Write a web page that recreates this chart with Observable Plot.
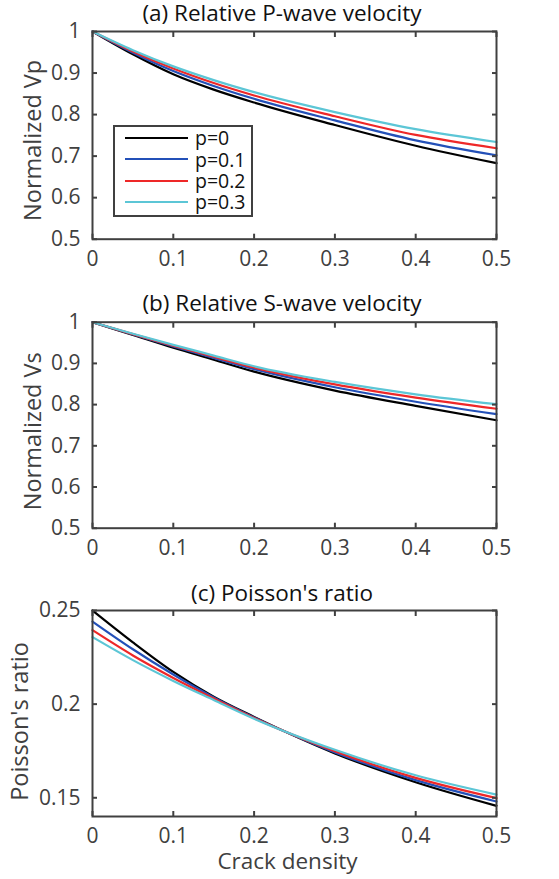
<!DOCTYPE html>
<html>
<head>
<meta charset="utf-8">
<script src="https://cdn.jsdelivr.net/npm/d3@7"></script>
<script src="https://cdn.jsdelivr.net/npm/@observablehq/plot@0.6"></script>
<style>
  html, body { margin: 0; padding: 0; background: #fff; }
  #root { position: relative; width: 559px; height: 879px; font-family: "Open Sans", sans-serif; }
  .panel { position: absolute; left: 0; }
  .title { position: absolute; width: 400px; text-align: center; font-size: 22.5px; color: #111; white-space: nowrap; line-height: 1.1; }
  .legend { position: absolute; left: 113px; top: 125px; width: 136px; height: 88px; border: 2px solid #404040; background: #fff; }
  .legend .row { position: absolute; left: 0; height: 22px; display: flex; align-items: center; font-size: 19.5px; color: #111; line-height: 1; }
  .legend .sw { width: 63px; height: 2px; margin-left: 10px; margin-right: 7px; }
</style>
</head>
<body>
<div id="root"></div>
<script>
// ---------- data ----------
const crack = [0, 0.05, 0.1, 0.15, 0.2, 0.3, 0.4, 0.5];
const seriesNames = ["p=0", "p=0.1", "p=0.2", "p=0.3"];
const seriesColors = ["#000000", "#2350b8", "#ee2828", "#5cc6d6"];

// (a) normalized Vp
const vpP0 = [1, 0.945, 0.897, 0.860, 0.829, 0.775, 0.725, 0.683];
const vpP1 = [1, 0.949, 0.905, 0.869, 0.838, 0.786, 0.738, 0.702];
const vpP2 = [1, 0.952, 0.911, 0.876, 0.846, 0.796, 0.751, 0.719];
const vpP3 = [1, 0.955, 0.916, 0.883, 0.854, 0.806, 0.765, 0.734];

// (b) normalized Vs
const vsP0 = [1, 0.969, 0.938, 0.909, 0.880, 0.834, 0.797, 0.762];
const vsP1 = [1, 0.970, 0.941, 0.913, 0.886, 0.842, 0.807, 0.777];
const vsP2 = [1, 0.971, 0.943, 0.916, 0.890, 0.849, 0.817, 0.790];
const vsP3 = [1, 0.972, 0.945, 0.919, 0.893, 0.855, 0.825, 0.801];

// (c) Poisson's ratio
const nuP0 = [0.2500, 0.2330, 0.2172, 0.2040, 0.1932, 0.1737, 0.1583, 0.1457];
const nuP1 = [0.2441, 0.2293, 0.2158, 0.2036, 0.1929, 0.1742, 0.1594, 0.1480];
const nuP2 = [0.2395, 0.2260, 0.2140, 0.2030, 0.1926, 0.1749, 0.1606, 0.1498];
const nuP3 = [0.2358, 0.2235, 0.2124, 0.2022, 0.1922, 0.1756, 0.1620, 0.1517];

// ticks
const xTicks = [0, 0.1, 0.2, 0.3, 0.4, 0.5];
const xTickLabels = ["0", "0.1", "0.2", "0.3", "0.4", "0.5"];
const yTicksV = [0.5, 0.6, 0.7, 0.8, 0.9, 1];
const yTickLabelsV = ["0.5", "0.6", "0.7", "0.8", "0.9", "1"];
const yTicksNu = [0.15, 0.2, 0.25];
const yTickLabelsNu = ["0.15", "0.2", "0.25"];

const titles = ["(a) Relative P-wave velocity", "(b) Relative S-wave velocity", "(c) Poisson's ratio"];
const yLabels = ["Normalized Vp", "Normalized Vs", "Poisson's ratio"];
const xLabel = "Crack density";

// ---------- build ----------
function rows(list) {
  const out = [];
  list.forEach((vals, k) => vals.forEach((v, i) => out.push({x: crack[i], y: v, s: seriesNames[k]})));
  return out;
}

const AX = "#404040";
const FONT = "'Open Sans', sans-serif";

function panel({data, yDomain, yTicks, yTickLabels, yLabel, labelDx, labelDy, top, height, mTop, mBottom, showXLabel}) {
  const fmtY = d => yTickLabels[yTicks.findIndex(t => Math.abs(t - d) < 1e-9)];
  const fmtX = d => xTickLabels[xTicks.findIndex(t => Math.abs(t - d) < 1e-9)];
  const marks = [
    Plot.line(rows(data), {x: "x", y: "y", z: "s", stroke: "s", strokeWidth: 2.2, curve: "monotone-x"}),
    Plot.frame({stroke: AX, strokeWidth: 2}),
    Plot.axisX({ticks: xTicks, tickFormat: fmtX, tickSize: -5, tickPadding: 17, strokeWidth: 2, fontSize: 21, label: null}),
    Plot.axisX({anchor: "top", ticks: xTicks, tickFormat: () => "", tickSize: -5, strokeWidth: 2, label: null}),
    Plot.axisY({ticks: yTicks, tickFormat: fmtY, tickSize: -5, tickPadding: 17, strokeWidth: 2, fontSize: 21, label: null}),
    Plot.axisY({anchor: "right", ticks: yTicks, tickFormat: () => "", tickSize: -5, strokeWidth: 2, label: null}),
    Plot.text([yLabel], {frameAnchor: "left", textAnchor: "middle", rotate: -90, dx: labelDx, dy: labelDy, fontSize: 23.5, fill: AX})
  ];
  if (showXLabel) marks.push(Plot.text([xLabel], {frameAnchor: "bottom", textAnchor: "middle", dy: 52, dx: -7, fontSize: 22.5, fill: AX}));
  const svg = Plot.plot({
    width: 559, height,
    marginLeft: 92, marginRight: 63, marginTop: mTop, marginBottom: mBottom,
    x: {domain: [0, 0.5]},
    y: {domain: yDomain},
    color: {domain: seriesNames, range: seriesColors},
    style: {fontFamily: FONT, fontSize: "21px", color: AX, background: "transparent", overflow: "visible"},
    marks
  });
  svg.classList.add("panel");
  svg.style.top = top + "px";
  return svg;
}

const root = document.getElementById("root");
root.appendChild(panel({data: [vpP0, vpP1, vpP2, vpP3], yDomain: [0.5, 1], yTicks: yTicksV, yTickLabels: yTickLabelsV,
  yLabel: yLabels[0], labelDx: -59, labelDy: 5, top: 0, height: 290, mTop: 31, mBottom: 51.3}));
root.appendChild(panel({data: [vsP0, vsP1, vsP2, vsP3], yDomain: [0.5, 1], yTicks: yTicksV, yTickLabels: yTickLabelsV,
  yLabel: yLabels[1], labelDx: -59, labelDy: 6, top: 290, height: 290, mTop: 31.7, mBottom: 52.3}));
root.appendChild(panel({data: [nuP0, nuP1, nuP2, nuP3], yDomain: [0.14, 0.25], yTicks: yTicksNu, yTickLabels: yTickLabelsNu,
  yLabel: yLabels[2], labelDx: -72, labelDy: 8, top: 580, height: 299, mTop: 30, mBottom: 63, showXLabel: true}));

// titles
[[0, 1], [1, 291], [2, 581]].forEach(([i, t]) => {
  const d = document.createElement("div");
  d.className = "title";
  d.textContent = titles[i];
  d.style.left = (282 - 200) + "px";
  d.style.top = t + "px";
  root.appendChild(d);
});

// legend
const lg = document.createElement("div");
lg.className = "legend";
seriesNames.forEach((n, k) => {
  const r = document.createElement("div");
  r.className = "row";
  r.style.top = (0 + k * 21.3) + "px";
  const sw = document.createElement("div");
  sw.className = "sw";
  sw.style.background = seriesColors[k];
  const tx = document.createElement("span");
  tx.textContent = n;
  r.appendChild(sw); r.appendChild(tx);
  lg.appendChild(r);
});
root.appendChild(lg);
</script>
</body>
</html>
